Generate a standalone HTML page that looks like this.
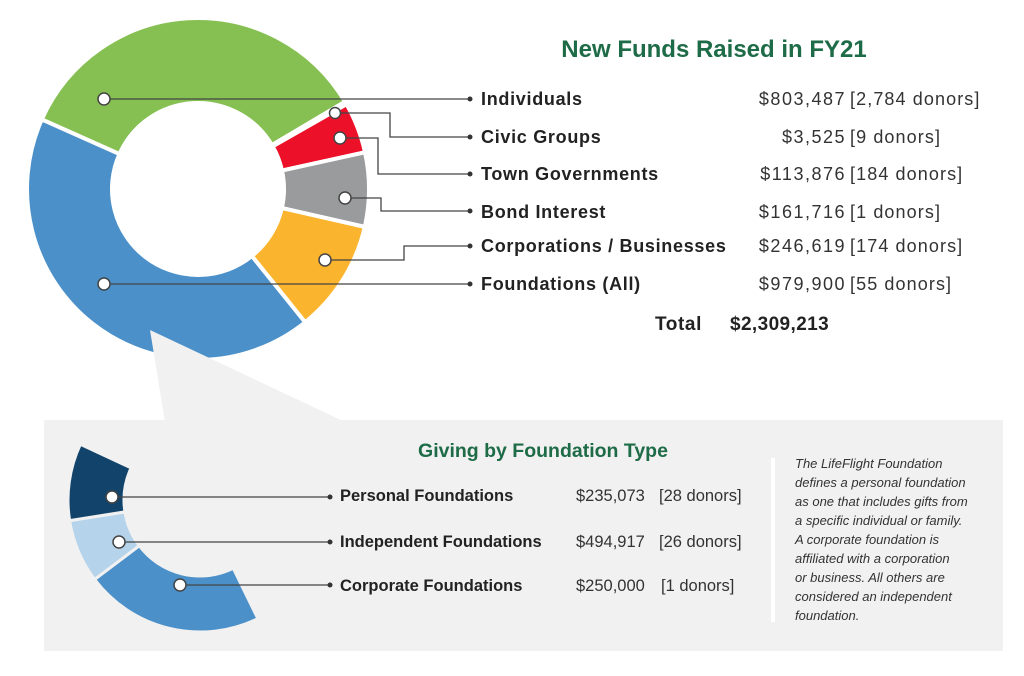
<!DOCTYPE html>
<html><head><meta charset="utf-8"><style>
body{margin:0;width:1024px;height:676px;background:#fff;overflow:hidden;font-family:"Liberation Sans",sans-serif;}
svg{position:absolute;left:0;top:0}
</style></head><body>
<svg width="1024" height="676" viewBox="0 0 1024 676">
<defs>
<style>
.lb{font:bold 18px "Liberation Sans",sans-serif;fill:#222;letter-spacing:0.7px}
.am{font:18px "Liberation Sans",sans-serif;fill:#333;letter-spacing:1.5px}
.br{font:18px "Liberation Sans",sans-serif;fill:#333;letter-spacing:1.1px}
.lb2{font:bold 16.5px "Liberation Sans",sans-serif;fill:#222}
.am2{font:16.5px "Liberation Sans",sans-serif;fill:#333}
.it{font:italic 13px "Liberation Sans",sans-serif;fill:#333}
.ln{stroke:#444;stroke-width:1.3;fill:none}
.dot{fill:#fff;stroke:#444;stroke-width:1.5}
</style>
</defs>
<rect x="44" y="420" width="959" height="231" fill="#f1f1f1"/>
<g id="donut"></g>
<polygon points="150,330 165,422 345,422" fill="#f1f1f1"/>
<g id="small"></g>
<rect x="771" y="458" width="4" height="164" fill="#fff"/>

<text x="714" y="57" text-anchor="middle" style="font:bold 24px 'Liberation Sans',sans-serif;fill:#1e6b47">New Funds Raised in FY21</text>
<g class="lb">
<text x="481" y="105">Individuals</text>
<text x="481" y="143">Civic Groups</text>
<text x="481" y="180">Town Governments</text>
<text x="481" y="218">Bond Interest</text>
<text x="481" y="252">Corporations / Businesses</text>
<text x="481" y="290">Foundations (All)</text>
</g>
<g class="am" text-anchor="end">
<text x="846" y="105">$803,487</text>
<text x="846" y="143">$3,525</text>
<text x="846" y="180">$113,876</text>
<text x="846" y="218">$161,716</text>
<text x="846" y="252">$246,619</text>
<text x="846" y="290">$979,900</text>
</g>
<g class="br">
<text x="850" y="105">[2,784 donors]</text>
<text x="850" y="143">[9 donors]</text>
<text x="850" y="180">[184 donors]</text>
<text x="850" y="218">[1 donors]</text>
<text x="850" y="252">[174 donors]</text>
<text x="850" y="290">[55 donors]</text>
</g>
<text x="655" y="330" style="font:bold 19px 'Liberation Sans',sans-serif;fill:#222;letter-spacing:0.6px">Total</text>
<text x="730" y="330" style="font:bold 19px 'Liberation Sans',sans-serif;fill:#222;letter-spacing:0.4px">$2,309,213</text>

<g class="ln">
<path d="M104,99 H470"/>
<path d="M335,113 H390 V137 H470"/>
<path d="M340,138 H378 V174 H470"/>
<path d="M345,198 H381 V211 H470"/>
<path d="M325,260 H404 V246 H470"/>
<path d="M104,284 H470"/>
<path d="M112,497 H330"/>
<path d="M119,542 H330"/>
<path d="M180,585 H330"/>
</g>
<g fill="#333">
<circle cx="470" cy="99" r="2.5"/><circle cx="470" cy="137" r="2.5"/><circle cx="470" cy="174" r="2.5"/>
<circle cx="470" cy="211" r="2.5"/><circle cx="470" cy="246" r="2.5"/><circle cx="470" cy="284" r="2.5"/>
<circle cx="330" cy="497" r="2.5"/><circle cx="330" cy="542" r="2.5"/><circle cx="330" cy="585" r="2.5"/>
</g>
<g class="dot">
<circle cx="104" cy="99" r="6"/><circle cx="335" cy="113" r="5.5"/><circle cx="340" cy="138" r="6"/>
<circle cx="345" cy="198" r="6"/><circle cx="325" cy="260" r="6"/><circle cx="104" cy="284" r="6"/>
<circle cx="112" cy="497" r="6"/><circle cx="119" cy="542" r="6"/><circle cx="180" cy="585" r="6"/>
</g>

<text x="543" y="457" text-anchor="middle" style="font:bold 19.5px 'Liberation Sans',sans-serif;fill:#1e6b47">Giving by Foundation Type</text>
<g class="lb2">
<text x="340" y="501">Personal Foundations</text>
<text x="340" y="547">Independent Foundations</text>
<text x="340" y="591">Corporate Foundations</text>
</g>
<g class="am2">
<text x="576" y="501">$235,073</text><text x="659" y="501">[28 donors]</text>
<text x="576" y="547">$494,917</text><text x="659" y="547">[26 donors]</text>
<text x="576" y="591">$250,000</text><text x="661" y="591">[1 donors]</text>
</g>
<g class="it">
<text x="795" y="468">The LifeFlight Foundation</text>
<text x="795" y="487">defines a personal foundation</text>
<text x="795" y="506">as one that includes gifts from</text>
<text x="795" y="525">a specific individual or family.</text>
<text x="795" y="544">A corporate foundation is</text>
<text x="795" y="563">affiliated with a corporation</text>
<text x="795" y="582">or business. All others are</text>
<text x="795" y="601">considered an independent</text>
<text x="795" y="620">foundation.</text>
</g>
</svg>
<script>
function arc(cx,cy,ro,ri,a0,a1,col){
 const r=Math.PI/180;
 const p=(a,R)=>[cx+R*Math.sin(a*r),cy-R*Math.cos(a*r)];
 const large=(a1-a0)>180?1:0;
 const [x0,y0]=p(a0,ro),[x1,y1]=p(a1,ro),[x2,y2]=p(a1,ri),[x3,y3]=p(a0,ri);
 return `<path d="M${x0},${y0} A${ro},${ro} 0 ${large} 1 ${x1},${y1} L${x2},${y2} A${ri},${ri} 0 ${large} 0 ${x3},${y3}Z" fill="${col}" stroke="#fff" stroke-width="4"/>`;
}
let s='';
const segs=[[-66,59.3,'#86c052'],[59.3,60.3,'#9a9b9d'],[60.3,77.6,'#ec1029'],[77.6,102.8,'#9a9b9d'],[102.8,141.2,'#fbb42d'],[141.2,294,'#4b90c8']];
segs.forEach(g=>s+=arc(198,189,171,86,g[0],g[1],g[2]));
document.getElementById('donut').innerHTML=s;
let t='';
[[154,233,'#4b90c8'],[233,261,'#b5d3ea'],[261,295,'#12446b']].forEach(g=>{t+=arc(200,500,132,76,g[0],g[1],g[2]).replace('stroke="#fff"','stroke="#f1f1f1"').replace('stroke-width="4"','stroke-width="3"');});
document.getElementById('small').innerHTML=t;
</script>
</body></html>
